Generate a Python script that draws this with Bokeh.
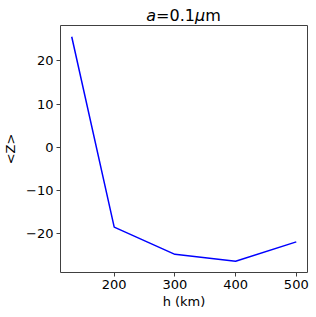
from bokeh.plotting import figure
from bokeh.models import FixedTicker, Range1d, Div
from bokeh.layouts import column
from bokeh.embed import file_html
from bokeh.resources import INLINE

# data
h_km = [130, 200, 300, 400, 500]
z_mean = [25.6, -18.5, -24.8, -26.4, -21.9]
x_ticks = [200, 300, 400, 500]
y_ticks = [-20, -10, 0, 10, 20]
y_tick_labels = ["\u221220", "\u221210", "0", "10", "20"]
x_label = "h (km)"
y_label = "<Z>"
title_html = "<i>a</i>=0.1<i>\u03bc</i>m"

FONT = "DejaVu Sans"

p = figure(output_backend="svg", toolbar_location=None,
           frame_width=247, frame_height=247,
           x_range=Range1d(111.5, 518.5), y_range=Range1d(-29.0, 28.2))
p.min_border_left = 50
p.min_border_right = 2
p.min_border_top = 1
p.min_border_bottom = 36
p.title.visible = False
p.xgrid.visible = False
p.ygrid.visible = False
p.outline_line_color = "#404040"
p.outline_line_width = 1
p.background_fill_color = "white"
p.border_fill_color = "white"

p.line(h_km, z_mean, line_color="#0000ff", line_width=1.5)

for ax in (p.xaxis[0], p.yaxis[0]):
    ax.axis_line_color = None
    ax.major_tick_in = 0
    ax.major_tick_out = 4
    ax.major_tick_line_color = "#404040"
    ax.minor_tick_line_color = None
    ax.major_label_text_font = FONT
    ax.major_label_text_font_size = "13px"
    ax.major_label_text_color = "black"
    ax.axis_label_text_font = FONT
    ax.axis_label_text_font_size = "13px"
    ax.axis_label_text_font_style = "normal"
    ax.axis_label_text_color = "black"
    ax.major_label_standoff = 3

p.xaxis[0].ticker = FixedTicker(ticks=x_ticks)
p.yaxis[0].ticker = FixedTicker(ticks=y_ticks)
p.yaxis[0].major_label_overrides = {t: l for t, l in zip(y_ticks, y_tick_labels)}
p.xaxis[0].axis_label = x_label
p.yaxis[0].axis_label = y_label
p.xaxis[0].axis_label_standoff = 2
p.yaxis[0].axis_label_standoff = 5

title = Div(
    text=('<div style="width:247px;margin-left:60px;text-align:center;'
          "font-family:'DejaVu Sans';font-size:16px;line-height:31px;"
          'white-space:nowrap;color:black">' + title_html + "</div>"),
    width=310, height=24, margin=0,
)

layout = column(title, p, spacing=0)
open("out.html", "w").write(file_html(layout, INLINE))
